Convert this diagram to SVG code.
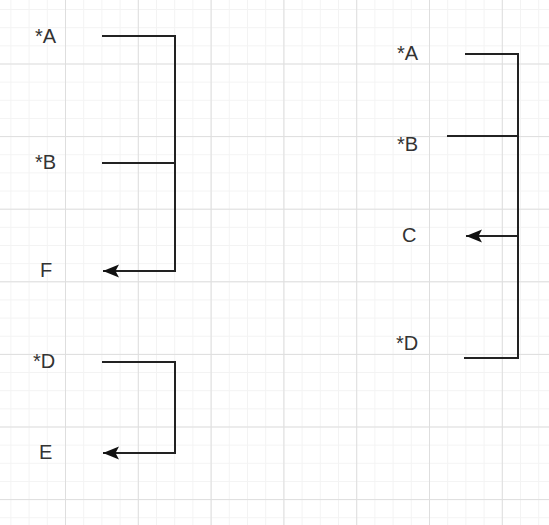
<svg xmlns="http://www.w3.org/2000/svg" width="549" height="525" viewBox="0 0 549 525">
<defs>
<pattern id="minor" patternUnits="userSpaceOnUse" x="65" y="63.5" width="18.2" height="18.15">
<path d="M0.5 0V18.15M0 0.5H18.2" fill="none" stroke="#f3f3f3" stroke-width="1"/>
</pattern>
<pattern id="major" patternUnits="userSpaceOnUse" x="65" y="63.5" width="72.8" height="72.6">
<path d="M0.5 0V72.6M0 0.5H72.8" fill="none" stroke="#dedede" stroke-width="1"/>
</pattern>
<marker id="arr" viewBox="0 0 18 16" refX="17" refY="8" markerWidth="18" markerHeight="16" markerUnits="userSpaceOnUse" orient="auto">
<path d="M17 8 L1 1.5 L4.5 8 L1 14.5 Z" fill="#111"/>
</marker>
<style>
.lbl{font-family:"Liberation Sans",Arial,sans-serif;font-size:20px;fill:#333;}
.c{fill:none;stroke:#222;stroke-width:2;}
</style>
</defs>
<rect width="549" height="525" fill="#ffffff"/>
<rect width="549" height="525" fill="url(#minor)"/>
<rect width="549" height="525" fill="url(#major)"/>
<g id="connectors">
<path class="c" d="M102 36H175V271H103" marker-end="url(#arr)"/>
<path class="c" d="M102 163H175"/>
<path class="c" d="M102 362H175V453H103" marker-end="url(#arr)"/>
<path class="c" d="M465 54H518V358H464"/>
<path class="c" d="M447 136H518"/>
<path class="c" d="M518 236H466" marker-end="url(#arr)"/>
</g>
<g id="L-A"><text class="lbl" x="35" y="43">*A</text></g>
<g id="L-B"><text class="lbl" x="35" y="169">*B</text></g>
<g id="L-F"><text class="lbl" x="40" y="277">F</text></g>
<g id="L-D"><text class="lbl" x="33" y="368">*D</text></g>
<g id="L-E"><text class="lbl" x="39" y="459">E</text></g>
<g id="R-A"><text class="lbl" x="397" y="60">*A</text></g>
<g id="R-B"><text class="lbl" x="397" y="151">*B</text></g>
<g id="R-C"><text class="lbl" x="402" y="242">C</text></g>
<g id="R-D"><text class="lbl" x="396" y="350">*D</text></g>
</svg>
